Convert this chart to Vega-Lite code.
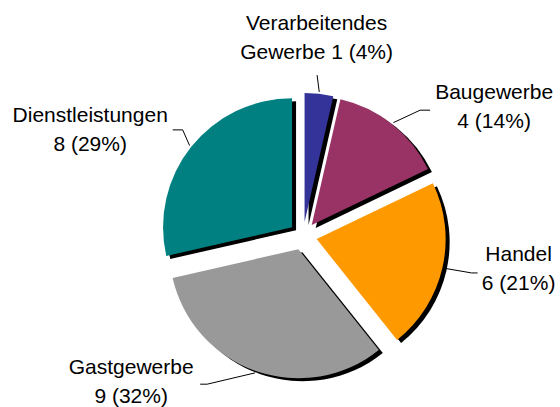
{
  "$schema": "https://vega.github.io/schema/vega-lite/v6.json",
  "width": 514,
  "height": 342,
  "autosize": "none",
  "padding": {"left": 46, "top": 65, "right": 0, "bottom": 0},
  "background": "white",
  "config": {"view": {"stroke": null}},
  "data": {
    "values": [
      {"category": "Verarbeitendes Gewerbe", "value": 1, "pct": 4, "order": 1, "label": "Verarbeitendes\nGewerbe 1 (4%)"},
      {"category": "Baugewerbe", "value": 4, "pct": 14, "order": 2, "label": "Baugewerbe\n4 (14%)"},
      {"category": "Handel", "value": 6, "pct": 21, "order": 3, "label": "Handel\n6 (21%)"},
      {"category": "Gastgewerbe", "value": 9, "pct": 32, "order": 4, "label": "Gastgewerbe\n9 (32%)"},
      {"category": "Dienstleistungen", "value": 8, "pct": 29, "order": 5, "label": "Dienstleistungen\n8 (29%)"}
    ]
  },
  "transform": [
    {"stack": "value", "groupby": [], "sort": [{"field": "order", "order": "ascending"}], "as": ["s0", "s1"]}
  ],
  "layer": [
    {
      "mark": {
        "type": "arc",
        "radius": 129,
        "fill": "black",
        "x": {"expr": "width/2 + 14*sin((scale('theta', datum.s0) + scale('theta', datum.s1))/2) + 4"},
        "y": {"expr": "height/2 - 14*cos((scale('theta', datum.s0) + scale('theta', datum.s1))/2) + 3"}
      },
      "encoding": {
        "theta": {"field": "s1", "type": "quantitative", "stack": null, "scale": {"zero": true}},
        "theta2": {"field": "s0"}
      }
    },
    {
      "mark": {
        "type": "arc",
        "radius": 129,
        "x": {"expr": "width/2 + 14*sin((scale('theta', datum.s0) + scale('theta', datum.s1))/2)"},
        "y": {"expr": "height/2 - 14*cos((scale('theta', datum.s0) + scale('theta', datum.s1))/2)"}
      },
      "encoding": {
        "theta": {"field": "s1", "type": "quantitative", "stack": null, "scale": {"zero": true}},
        "theta2": {"field": "s0"},
        "color": {
          "field": "category",
          "type": "nominal",
          "scale": {
            "domain": ["Verarbeitendes Gewerbe", "Baugewerbe", "Handel", "Gastgewerbe", "Dienstleistungen"],
            "range": ["#333399", "#993366", "#FF9900", "#999999", "#008080"]
          },
          "legend": null
        }
      }
    },
    {
      "mark": {"type": "rule", "color": "black", "strokeWidth": 1},
      "encoding": {
        "x": {"value": {"expr": "width/2 + 145*sin((scale('theta', datum.s0) + scale('theta', datum.s1))/2)"}},
        "y": {"value": {"expr": "height/2 - 145*cos((scale('theta', datum.s0) + scale('theta', datum.s1))/2)"}},
        "x2": {"value": {"expr": "width/2 + 175*sin((scale('theta', datum.s0) + scale('theta', datum.s1))/2) + [-5.5, 8, -2, -38, 16.5][datum.order - 1]"}},
        "y2": {"value": {"expr": "height/2 - 175*cos((scale('theta', datum.s0) + scale('theta', datum.s1))/2) + [13, 11, -2, -17, 3][datum.order - 1]"}}
      }
    },
    {
      "mark": {"type": "rule", "color": "black", "strokeWidth": 1},
      "encoding": {
        "x": {"value": {"expr": "width/2 + 175*sin((scale('theta', datum.s0) + scale('theta', datum.s1))/2) + [-5.5, 8, -2, -38, 16.5][datum.order - 1]"}},
        "y": {"value": {"expr": "height/2 - 175*cos((scale('theta', datum.s0) + scale('theta', datum.s1))/2) + [13, 11, -2, -17, 3][datum.order - 1]"}},
        "x2": {"value": {"expr": "width/2 + 175*sin((scale('theta', datum.s0) + scale('theta', datum.s1))/2) + [-5.5, 18, 4, -45, 6.5][datum.order - 1]"}},
        "y2": {"value": {"expr": "height/2 - 175*cos((scale('theta', datum.s0) + scale('theta', datum.s1))/2) + [13, 11, -2, -17, 3][datum.order - 1]"}}
      }
    },
    {
      "mark": {
        "type": "text",
        "font": "Liberation Sans",
        "fontSize": 21,
        "lineHeight": 29,
        "lineBreak": "\n",
        "align": "center",
        "baseline": "middle",
        "color": "black",
        "x": {"expr": "width/2 + 175*sin((scale('theta', datum.s0) + scale('theta', datum.s1))/2)"},
        "y": {"expr": "height/2 - 175*cos((scale('theta', datum.s0) + scale('theta', datum.s1))/2)"},
        "dx": {"expr": "[-6, 82, 45, -114, -76][datum.order - 1]"},
        "dy": {"expr": "[-38, -6, -20, -33, -11][datum.order - 1]"}
      },
      "encoding": {
        "text": {"field": "label", "type": "nominal"}
      }
    }
  ]
}
